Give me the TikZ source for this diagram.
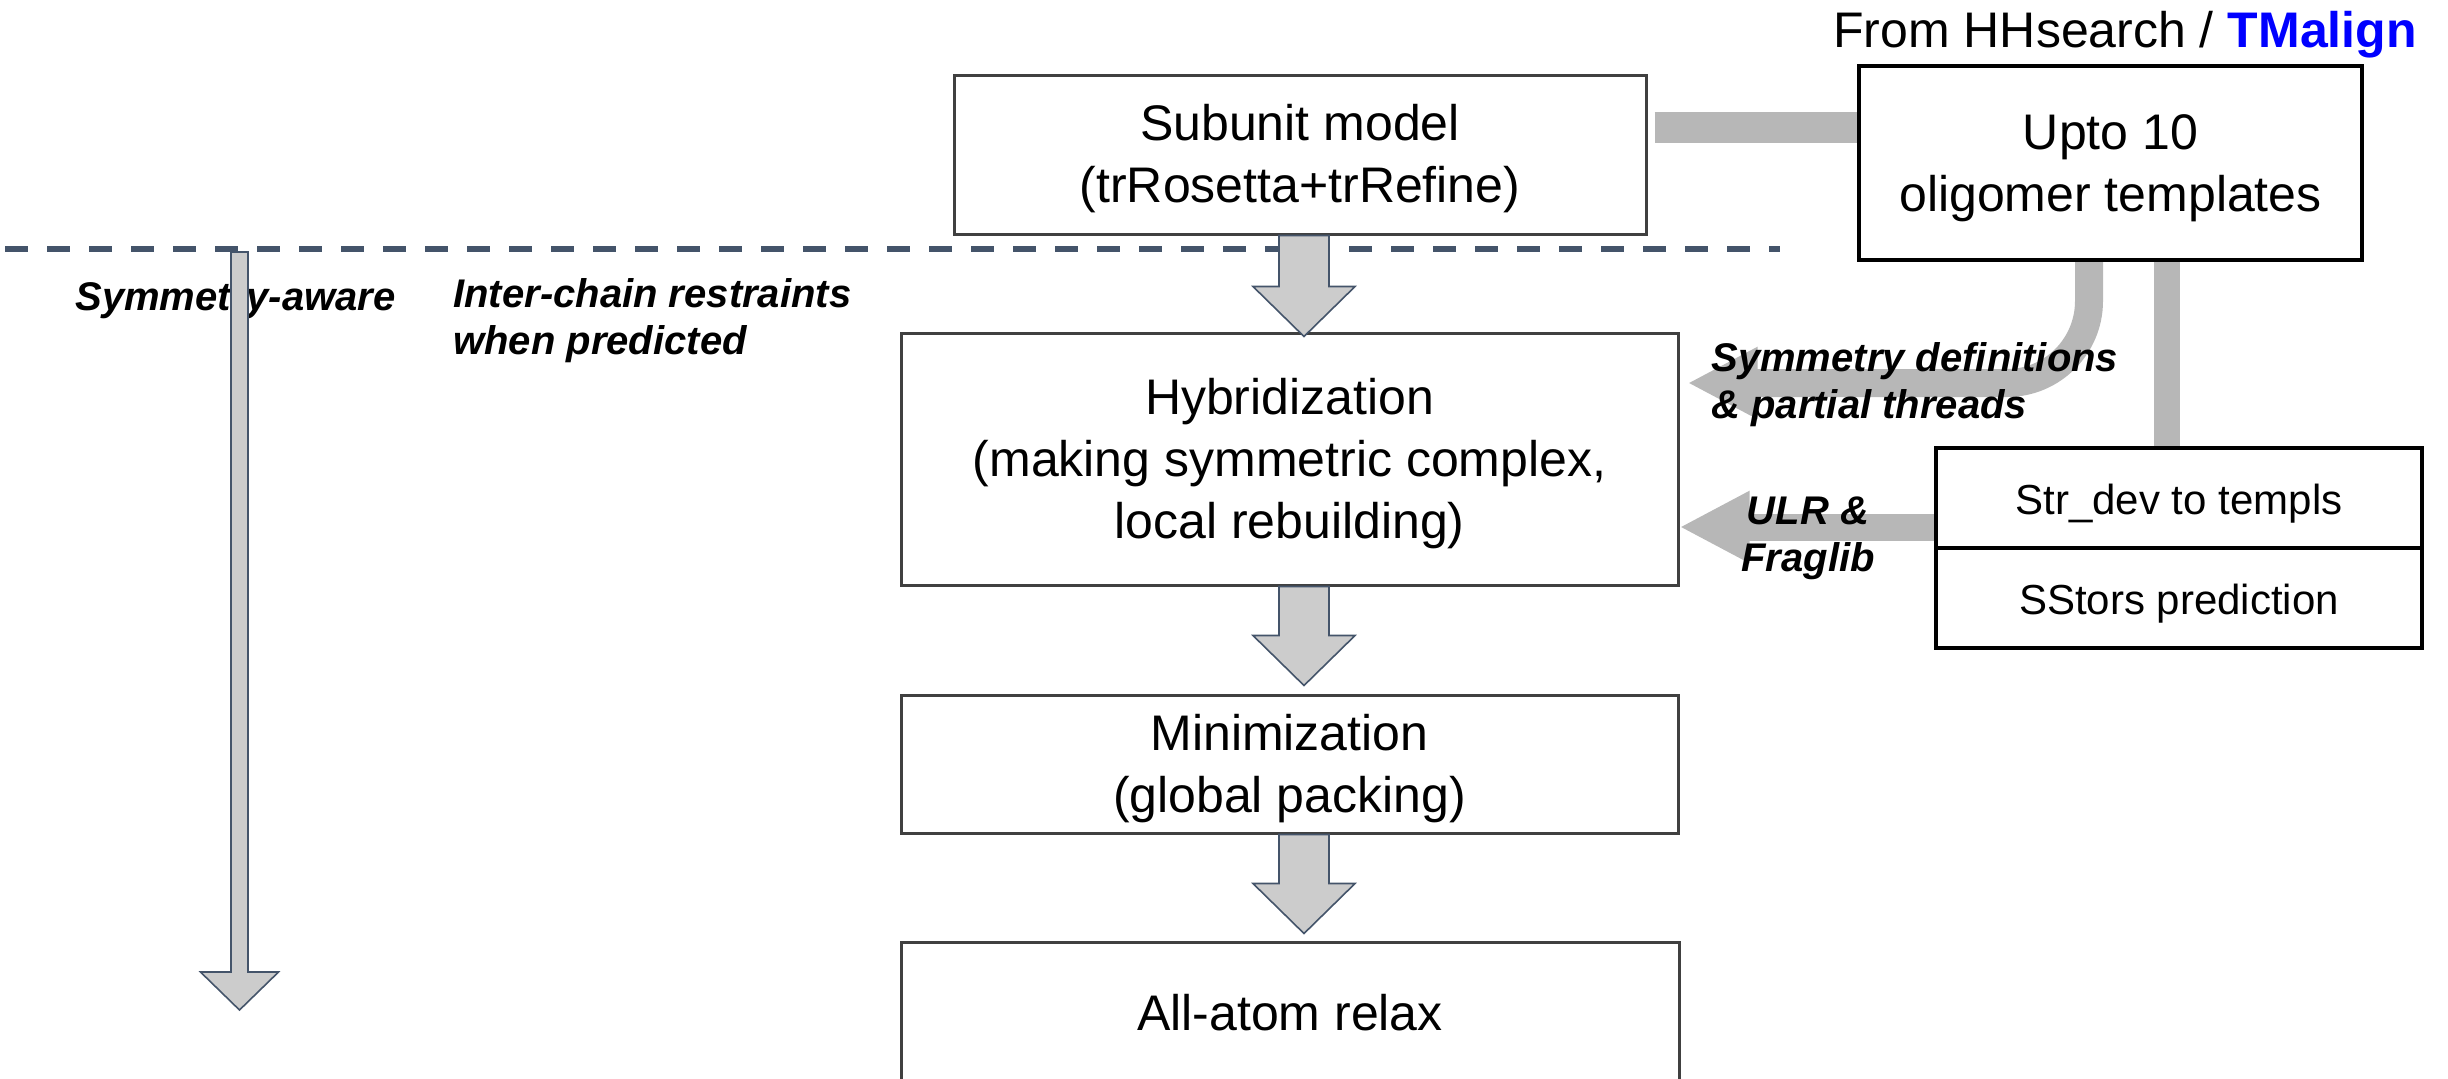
\documentclass[tikz,border=0pt]{standalone}
\usepackage{fontspec}
\setmainfont{Liberation Sans}
\usetikzlibrary{shapes,arrows.meta,calc}

\definecolor{arrowfill}{RGB}{204,204,204}
\definecolor{slate}{RGB}{68,84,106}
\definecolor{feedgray}{RGB}{183,183,183}
\definecolor{boxline}{RGB}{64,64,64}

\newcommand{\topline}{\rule{0pt}{0.905em}}
\newcommand{\botline}{\rule[-0.212em]{0pt}{0.212em}}

\newcommand{\fatdown}[5]{%
  \draw[blockarrow] let \p1=(#1), \p2=(#2) in
    (\x1-#3,\y1) -- (\x1-#3,\y2+#5) -- (\x1-#4,\y2+#5) -- (\x1,\y2)
    -- (\x1+#4,\y2+#5) -- (\x1+#3,\y2+#5) -- (\x1+#3,\y1) -- cycle;}

\begin{document}
\begin{tikzpicture}[x=0.5pt,y=-0.5pt]
\tikzstyle{stage}=[draw=boxline, line width=1.5pt, fill=white, align=center,
	inner sep=0pt, font=\fontsize{25}{31}\selectfont]
\tikzstyle{tmpl}=[draw=black, line width=2pt, fill=white, inner sep=0pt]
\tikzstyle{note}=[inner sep=0pt, font=\fontsize{20}{23.5}\selectfont\bfseries\itshape]
\tikzstyle{feed}=[draw=feedgray, line cap=butt]
\tikzstyle{blockarrow}=[draw=slate, fill=arrowfill, line width=0.8pt, line join=miter]
\tikzstyle{feedtip}=[-{Triangle[length=35pt,width=33.5pt]}]

\useasboundingbox (0,0) rectangle (2448,1078);
\clip (0,0) rectangle (2448,1078);

\node[stage, minimum width=346pt, minimum height=79.5pt] (sub) at (1300,154.5)
	{\topline Subunit model\\(trRosetta+trRefine)\botline};
\node[stage, minimum width=388.5pt, minimum height=126pt] (hyb) at (1289.5,459)
	{\topline Hybridization\\(making symmetric complex,\\local rebuilding)\botline};
\node[stage, minimum width=388.5pt, minimum height=69pt] (mini) at (1289.5,764)
	{\topline Minimization\\(global packing)\botline};
\node[stage, minimum width=389pt, minimum height=71.5pt] (relax) at (1290,1013.5)
	{\topline All-atom relax\botline};
\node[tmpl, align=center, minimum width=251.5pt, minimum height=97pt,
	font=\fontsize{25}{31}\selectfont] (olig) at (2110.5,163)
	{\topline Upto 10\\oligomer templates\botline};
\node[tmpl, rectangle split, rectangle split parts=2, minimum width=243pt,
	font=\fontsize{21}{25}\selectfont] (strdev) at (2179,548)
	{\rule[-16pt]{0pt}{48pt}Str\_dev to templs
	\nodepart{two}\rule[-16pt]{0pt}{48pt}SStors prediction};
\node[font=\fontsize{25}{30}\selectfont, inner sep=0pt] (source) at (2125,30)
	{\topline From HHsearch / \textcolor{blue}{\bfseries TMalign}\botline};

\draw[slate, line width=3pt, dash pattern=on 11.5pt off 9.5pt] (5,249) -- (1780,249);

\draw[feed, line width=15.5pt] ([xshift=3.5pt,yshift=13.5pt]sub.east) coordinate (feedstart)
	-- (feedstart -| olig.west);
\coordinate (tap) at ([xshift=28.25pt]olig.south);
\draw[feed, line width=13pt] (tap) -- (tap |- strdev.north);
\draw[feed, feedtip, line width=14pt, rounded corners=41pt]
	([xshift=-10.75pt]olig.south) |- ([xshift=4pt,yshift=38pt]hyb.east);
\coordinate (ulrstart) at ([yshift=10.5pt]strdev.west);
\draw[feed, feedtip, line width=13.5pt] (ulrstart) -- (ulrstart -| hyb.east);

\node[note, anchor=west] (symaware) at (75,297) {\topline Symmetry-aware\botline};
\node[note, anchor=west, align=left] (interchain) at (453,317)
	{\topline Inter-chain restraints\\when predicted\botline};
\node[note, anchor=west, align=left] (symdef) at (1711,381)
	{\topline Symmetry definitions\\\& partial threads\botline};
\node[note, align=center] (ulr) at (1808,534) {\topline ULR \&\\Fraglib\botline};

\fatdown{[xshift=2pt]sub.south}{[yshift=-2.5pt]hyb.north}{12.5pt}{25.5pt}{25pt}
\fatdown{[xshift=7.25pt]hyb.south}{[yshift=4pt]mini.north}{12.5pt}{25.5pt}{25pt}
\fatdown{[xshift=7.25pt]mini.south}{[yshift=3.5pt]relax.north}{12.5pt}{25.5pt}{25pt}
\coordinate (symtop) at (239.5,252);
\coordinate (symtip) at (239.5,1010);
\fatdown{symtop}{symtip}{4.25pt}{19.5pt}{19pt}
\end{tikzpicture}
\end{document}
